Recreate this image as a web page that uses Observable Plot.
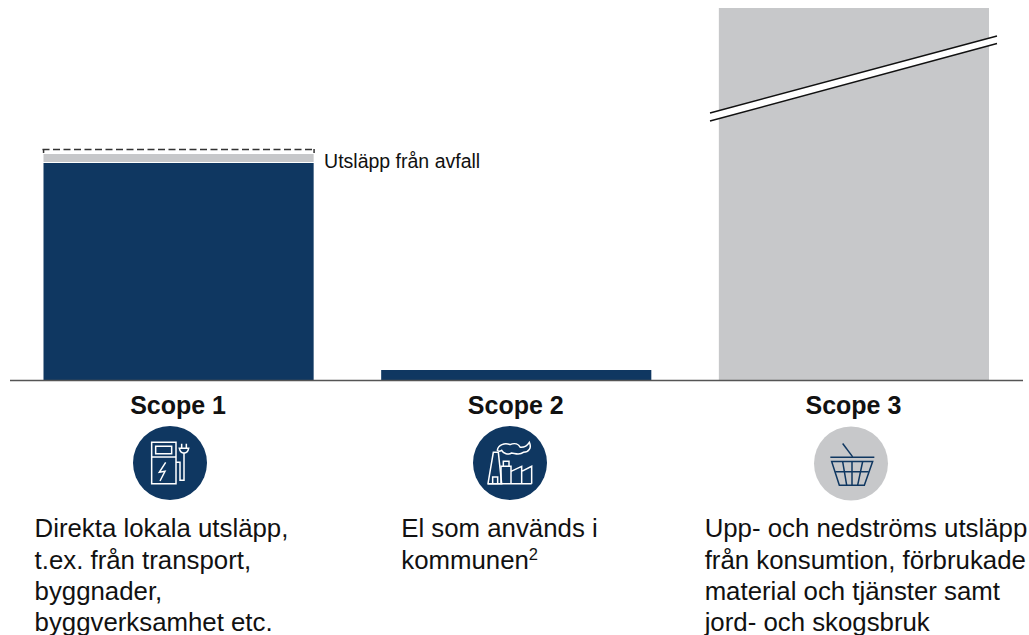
<!DOCTYPE html>
<html lang="sv">
<head>
<meta charset="utf-8">
<script src="https://cdn.jsdelivr.net/npm/d3@7"></script>
<script src="https://cdn.jsdelivr.net/npm/@observablehq/plot@0.6"></script>
<style>
html,body{margin:0;padding:0;background:#fff;overflow:hidden}
svg{display:block}
</style>
</head>
<body>
<div id="chart"></div>
<script>
const categories = ["Scope 1", "Scope 2", "Scope 3"];
const directValues = [217, 10, 0];
const otherValues = [0, 0, 372];
const wasteLow = 218, wasteHigh = 226, wasteBracket = 231;
const wasteLabel = "Utsläpp från avfall";
const descriptions = [
  "Direkta lokala utsläpp,\nt.ex. från transport,\nbyggnader,\nbyggverksamhet etc.",
  "El som används i\nkommunen",
  "Upp- och nedströms utsläpp\nfrån konsumtion, förbrukade\nmaterial och tjänster samt\njord- och skogsbruk"
];
const footnoteMark = "2";

const NAVY = "#0f3761", GREY = "#c7c8ca", FONT = "'Liberation Sans', Arial, sans-serif";
const descOffset = [-144.5, -115.5, -149.8];

const directBars = categories.map((c, i) => ({c, v: directValues[i]})).filter(d => d.v > 0);
const otherBars = categories.map((c, i) => ({c, v: otherValues[i]})).filter(d => d.v > 0);

const icons = [
  {cx: 170, cy: 463, fill: NAVY, stroke: "#fff", paths: [
    "M95 68H168V192H95Z", "M107 80H155V102H107Z", "M95 112H168",
    "M137 128L118 158L135 155L120 184",
    "M168 128H180V182H192V100", "M178 86H206C204 96 198 100 192 100C186 100 180 96 178 86Z",
    "M185 86V72M199 86V72"
  ]},
  {cx: 510, cy: 463, fill: NAVY, stroke: "#fff", paths: [
    "M84 192L100 98H115L125 192Z", "M98 192V172H113V192",
    "M112 92C114 76 134 68 150 75C165 68 176 74 181 83C195 84 202 78 208 68C216 85 206 98 190 98C178 108 165 101 155 100C145 106 130 102 125 92C120 95 115 95 112 92Z",
    "M123 192V140H153V192M130 140V125H147V140",
    "M153 155L185 140V192M185 155L215 140V192M84 192H215"
  ]},
  {cx: 851, cy: 463.5, fill: GREY, stroke: NAVY, paths: [
    "M125 70L155 110", "M88 111H220",
    "M92 124H215L190 195H115Z",
    "M125 124L137 195M153 124V195M185 124L170 195M103 155H203"
  ]}
];

function decorations() {
  const g = d3.create("svg:g");
  g.append("path").attr("d", "M710 113L997 36L997 43.5L710 121Z").attr("fill", "#fff");
  g.append("path").attr("d", "M710 113L997 36M710 121L997 43.5")
    .attr("stroke", "#111").attr("stroke-width", 1.4).attr("fill", "none");
  for (const ic of icons) {
    g.append("circle").attr("cx", ic.cx).attr("cy", ic.cy).attr("r", 37).attr("fill", ic.fill);
    const k = g.append("g")
      .attr("transform", `translate(${ic.cx - 50},${ic.cy - 43.33}) scale(${1/3})`)
      .attr("fill", "none").attr("stroke", ic.stroke).attr("stroke-width", 4.5);
    for (const d of ic.paths) k.append("path").attr("d", d);
  }
  return g.node();
}

const marks = [
  Plot.barY(directBars, {x: "c", y: "v", fill: NAVY}),
  Plot.barY(otherBars, {x: "c", y: "v", fill: GREY}),
  Plot.barY(["Scope 1"], {x: d => d, y1: wasteLow, y2: wasteHigh, fill: GREY}),
  Plot.tickY([wasteBracket], {x: () => "Scope 1", y: d => d, stroke: "#333", strokeWidth: 1.5, strokeDasharray: "7,3.5", insetLeft: -1, insetRight: -1}),
  Plot.ruleX(["Scope 1"], {x: d => d, y1: wasteBracket - 4, y2: wasteBracket, dx: -135.5, stroke: "#333", strokeWidth: 1.5}),
  Plot.ruleX(["Scope 1"], {x: d => d, y1: wasteBracket - 4, y2: wasteBracket, dx: 135, stroke: "#333", strokeWidth: 1.5}),
  Plot.ruleY([0], {stroke: "#555", strokeWidth: 1.5}),
  Plot.text([wasteLabel], {x: () => "Scope 1", y: 219, text: d => d, dx: 145, textAnchor: "start", lineAnchor: "middle", fontSize: 19.5, fill: "#111"}),
  Plot.text(categories, {x: d => d, text: d => d, frameAnchor: "top", lineAnchor: "top", dy: 395.5, dx: -1, textAnchor: "middle", fontSize: 25, fontWeight: "bold", fill: "#111"}),
  decorations,
  Plot.text([footnoteMark], {x: () => "Scope 2", text: d => d, frameAnchor: "top", lineAnchor: "top", dy: 548, dx: 12, textAnchor: "start", fontSize: 16.5, fill: "#111"})
];
categories.forEach((c, i) => {
  marks.push(Plot.text([descriptions[i]], {
    x: () => c, text: d => d, frameAnchor: "top", lineAnchor: "top", dy: 514.5, dx: descOffset[i],
    textAnchor: "start", lineHeight: 1.215, fontSize: 25.8, fill: "#111"
  }));
});

const chart = Plot.plot({
  width: 1029, height: 635,
  marginTop: 0, marginBottom: 255, marginLeft: 10, marginRight: 6,
  style: {fontFamily: FONT, background: "#fff"},
  x: {type: "band", domain: categories, range: [43.5, 989], paddingInner: 0.2, paddingOuter: 0, round: false, axis: null},
  y: {domain: [0, 372], range: [380, 8], axis: null},
  marks
});
document.getElementById("chart").appendChild(chart);
</script>
</body>
</html>
